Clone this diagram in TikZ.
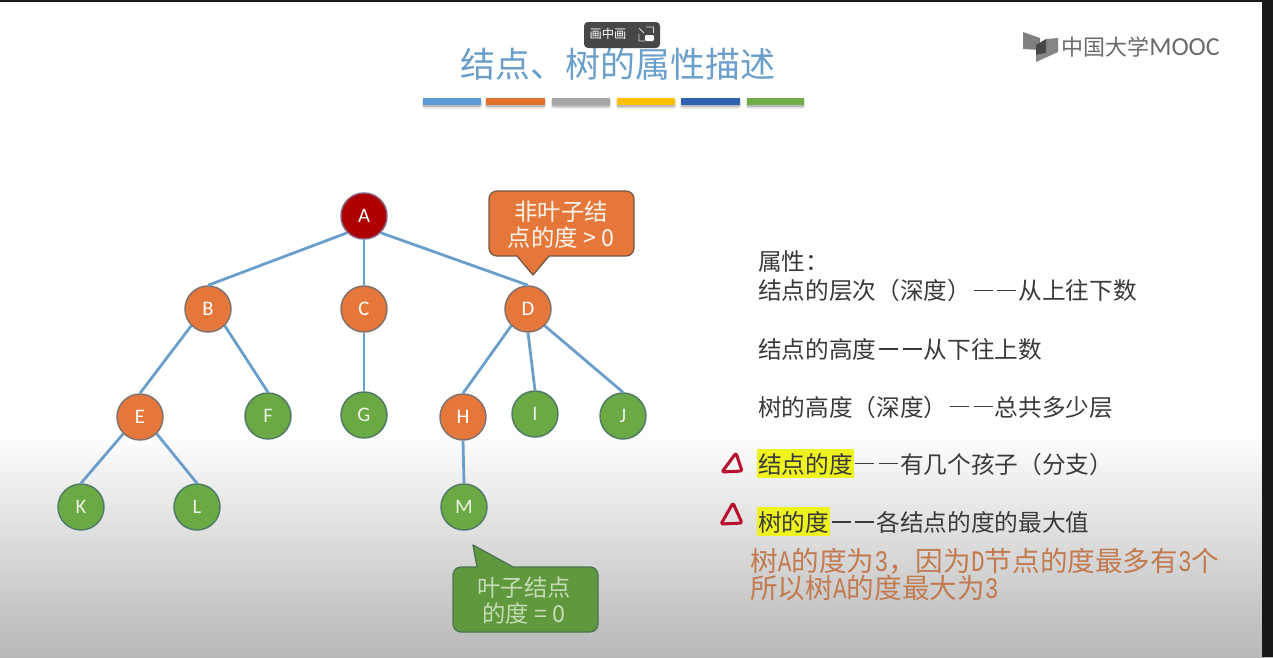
\documentclass[tikz,border=0pt]{standalone}
\usepackage{fontspec}
\setmainfont{Noto Sans CJK SC}
\newfontfamily\latinfont{Carlito}
\newfontfamily\monol{Liberation Mono}
\usetikzlibrary{shadows}
\definecolor{edgeblue}{HTML}{6A9FCB}
\definecolor{nodeorange}{HTML}{E5773A}
\definecolor{nodegreen}{HTML}{6BA945}
\definecolor{nodered}{HTML}{B00000}
\definecolor{bodytext}{HTML}{3A3A3A}
\definecolor{notetext}{HTML}{C27A50}
\definecolor{markred}{HTML}{B8102E}
\definecolor{hl}{HTML}{EEF21E}
\newcommand{\hw}[1]{\makebox[0.5em][c]{\scalebox{0.82}[1.08]{\monol #1}}}
\newcommand{\dd}{\makebox[1em][c]{\rule[0.36em]{0.8em}{0.06em}}\makebox[1em][c]{\rule[0.36em]{0.8em}{0.06em}}}
\tikzset{
  x=0.75pt,y=-0.75pt,
  treenode/.style={circle,minimum size=34.5pt,inner sep=0pt,line width=1.1pt,
    font=\latinfont\fontsize{15.5pt}{18pt}\selectfont,text=white},
  inner/.style={treenode,fill=nodeorange,draw=edgeblue!55!nodeorange!80!black},
  leaf/.style={treenode,fill=nodegreen,draw=edgeblue!50!nodegreen!75!black,text=white!85!nodegreen},
  root/.style={treenode,fill=nodered,draw=edgeblue!60!nodered},
  edge/.style={draw=edgeblue,line width=2.1pt},
  body/.style={anchor=west,inner sep=0pt,text=bodytext,font=\fontsize{17.75pt}{20pt}\selectfont},
  note/.style={anchor=west,inner sep=0pt,text=notetext,font=\fontsize{20.7pt}{24pt}\selectfont},
  calltext/.style={align=center,inner sep=0pt,font=\fontsize{17.5pt}{19.6pt}\selectfont},
  tri/.style={draw=markred,line width=2.3pt,line join=round,rounded corners=1.5pt},
}
\begin{document}
\begin{tikzpicture}
\useasboundingbox (0,0) rectangle (1273,657);
% background
\fill[white] (0,0) rectangle (1273,430);
\shade[top color=white,bottom color=black!28] (0,430) rectangle (1273,657);
\fill[black!90] (0,0) rectangle (1273,2);
\fill[black!90] (1262,0) rectangle (1273,657);
% title
\node[anchor=center,inner sep=0pt,text=edgeblue,font=\fontsize{26.2pt}{30pt}\selectfont] (title) at (618,64) {结点、树的属性描述};
% colour bars
\foreach \a/\b/\c in {423/481/5B9BD5,486/545/E0702A,552/610/A5A5A5,617/675/FFC000,681/740/2F62B0,747/804/70AD47}{
  \definecolor{barc}{HTML}{\c}
  \fill[black,opacity=.10,rounded corners=1pt] (\a-1,99) rectangle (\b+1,108.5);
  \fill[black,opacity=.18,rounded corners=1pt] (\a,100) rectangle (\b,107);
  \fill[barc] (\a,98) rectangle (\b,105);
}
% logo
\fill[black!50] (1023,32) -- (1040,38) -- (1040,50) -- (1023,49) -- cycle;
\fill[black!48] (1046,39) -- (1058,38) -- (1058,52) -- (1036,62) -- (1036,55) -- (1046,53) -- cycle;
\fill[black!72] (1036,45) -- (1046,39) -- (1046,53) -- (1036,55) -- cycle;
\node[anchor=west,inner sep=0pt,text=black!58,font=\fontsize{16.5pt}{18pt}\selectfont] (logotext) at (1061,47) {中国大学\fontsize{19.5pt}{20pt}\selectfont\latinfont MOOC};
% picture in picture button
\fill[black!72,rounded corners=3pt] (584,22) rectangle (660,48);
\node[anchor=center,inner sep=0pt,text=white,font=\fontsize{9.2pt}{10pt}\selectfont] (pip) at (608,34) {画中画};
\draw[white!85!black,line width=.7pt] (646,27) -- (653.5,27) -- (653.5,33) (639,34) -- (639,41) -- (645,41) (639,28) -- (644,33);
\fill[white,rounded corners=.8pt] (645,35) rectangle (654,41);
% tree
\node[root] (A) at (364,216) {A};
\node[inner] (B) at (208,309) {B};
\node[inner] (C) at (364,309) {C};
\node[inner] (D) at (528,309) {D};
\node[inner] (E) at (140,417) {E};
\node[leaf] (F) at (268,416) {F};
\node[leaf] (G) at (364,415) {G};
\node[inner] (H) at (463,417) {H};
\node[leaf] (I) at (535,414) {I};
\node[leaf] (J) at (623,416) {J};
\node[leaf] (K) at (81,507) {K};
\node[leaf] (L) at (197,507) {L};
\node[leaf] (M) at (464,507) {M};
\draw[edge] (A.south west) -- (B.north);
\draw[edge] (A.south) -- (C.north);
\draw[edge] (A.south east) -- (D.north);
\draw[edge] (B.south west) -- (E.north);
\draw[edge] (B.south east) -- (F.north);
\draw[edge] (C.south) -- (G.north);
\draw[edge] (D.south west) -- (H.north);
\draw[edge] (D.south) -- (I.north);
\draw[edge] (D.south east) -- (J.north);
\draw[edge] (E.south west) -- (K.north);
\draw[edge] (E.south east) -- (L.north);
\draw[edge] (H.south) -- (M.north);
% callouts
\draw[fill=nodeorange,draw=black!50!nodeorange!60!gray,line width=1pt,line join=round]
  (497,191) -- (626,191) arc[start angle=-90,end angle=0,radius=8] -- (634,248) arc[start angle=0,end angle=90,radius=8]
  -- (549,256) -- (533,275) -- (517,256) -- (497,256) arc[start angle=90,end angle=180,radius=8] -- (489,199) arc[start angle=180,end angle=270,radius=8] -- cycle;
\node[calltext,text=white!92!orange] (c1) at (561,225) {非叶子结\\点的度 > 0};
\draw[fill=nodegreen!90!black,draw=edgeblue!35!nodegreen!70!black,line width=1pt,line join=round]
  (461,567) -- (477,567) -- (473,545) -- (513,567) -- (590,567) arc[start angle=-90,end angle=0,radius=8] -- (598,624) arc[start angle=0,end angle=90,radius=8]
  -- (461,632) arc[start angle=90,end angle=180,radius=8] -- (453,575) arc[start angle=180,end angle=270,radius=8] -- cycle;
\node[calltext,text=white!60!nodegreen] (c2) at (524,601) {叶子结点\\的度 = 0};
% highlights
\fill[hl] (757,449) rectangle (854,478);
\fill[hl] (757,507) rectangle (830,536);
% marks
\draw[tri] (736,453) -- (722,472) -- (742,471) -- cycle;
\draw[tri] (733,503) -- (721,524) -- (742,523) -- cycle;
% right text
\node[body] (t1) at (758,262) {属性：};
\node[body] (t2) at (758,291) {结点的层次（深度）\dd 从上往下数};
\node[body] (t3) at (758,349) {结点的高度\dd 从下往上数};
\node[body] (t4) at (758,407) {树的高度（深度）\dd 总共多少层};
\node[body] (t5) at (758,464) {结点的度\dd 有几个孩子（分支）};
\node[body] (t6) at (758,522) {树的度\dd 各结点的度的最大值};
\node[note] (n1) at (750,561) {树\hw{A}的度为\hw{3}，因为\hw{D}节点的度最多有\hw{3}个};
\node[note] (n2) at (750,588) {所以树\hw{A}的度最大为\hw{3}};
\end{tikzpicture}
\end{document}
